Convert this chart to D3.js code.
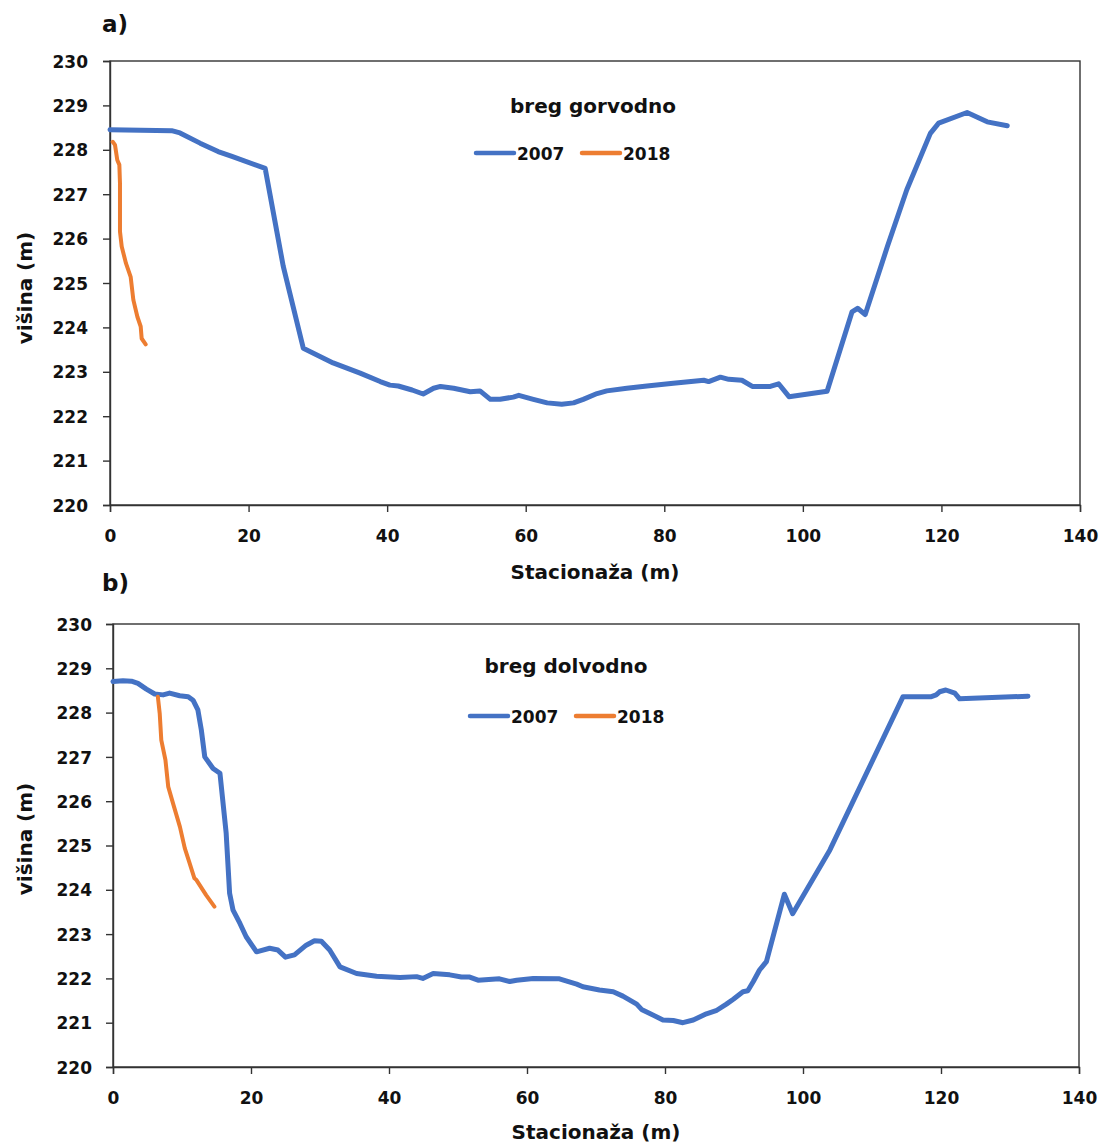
<!DOCTYPE html>
<html><head><meta charset="utf-8">
<script src="https://cdn.jsdelivr.net/npm/d3@7"></script>
<style>body{margin:0;background:#fff}svg{display:block}text{font-family:"DejaVu Sans",sans-serif;font-weight:bold;fill:#111}</style>
</head><body><svg id="c" width="1102" height="1144"></svg>
<script>
const xTicks = [0,20,40,60,80,100,120,140];
const yTicks = [220,221,222,223,224,225,226,227,228,229,230];
const seriesNames = ["2007","2018"];
const panelLabels = ["a)","b)"];
const panelTitles = ["breg gorvodno","breg dolvodno"];
const xTitle = "Stacionaža (m)";
const yTitle = "višina (m)";

// a) breg gorvodno
const upstream2007 = [[0,228.45],[8.9,228.43],[10.1,228.38],[13,228.15],[15.6,227.96],[17.6,227.85],[22.4,227.58],[25.0,225.38],[27.9,223.53],[32.2,223.2],[36.1,222.97],[39.0,222.78],[40.4,222.7],[41.6,222.68],[43.6,222.59],[45.2,222.5],[46.7,222.63],[47.7,222.67],[49.6,222.63],[52.0,222.55],[53.4,222.57],[54.9,222.38],[56.3,222.38],[58.2,222.43],[59.0,222.47],[61.1,222.38],[63.1,222.3],[65.2,222.27],[66.9,222.3],[68.3,222.38],[70.3,222.51],[71.7,222.57],[74.6,222.63],[77.5,222.68],[81.3,222.74],[85.7,222.81],[86.4,222.78],[88.1,222.88],[89.3,222.83],[91.2,222.81],[92.7,222.67],[95.3,222.67],[96.5,222.73],[98.0,222.44],[103.5,222.56],[107.1,224.35],[107.9,224.43],[109.0,224.29],[112.2,225.82],[115.0,227.1],[118.4,228.37],[119.6,228.6],[123.7,228.84],[126.6,228.63],[129.5,228.54]];
const upstream2018 = [[0.39,228.18],[0.72,228.11],[1.05,227.77],[1.35,227.66],[1.44,227.25],[1.44,226.16],[1.69,225.82],[2.31,225.44],[2.98,225.14],[3.37,224.62],[3.95,224.24],[4.43,224.02],[4.57,223.75],[5.15,223.62]];

// b) breg dolvodno
const downstream2007 = [[0,228.70],[1.45,228.72],[2.67,228.71],[3.62,228.66],[4.84,228.53],[6.04,228.42],[7.25,228.40],[8.2,228.44],[9.67,228.38],[10.9,228.36],[11.6,228.28],[12.3,228.06],[12.8,227.61],[13.3,227.0],[14.5,226.74],[15.5,226.63],[16.4,225.28],[16.9,223.92],[17.4,223.54],[18.4,223.24],[19.3,222.94],[20.8,222.60],[22.7,222.68],[23.9,222.64],[25.0,222.48],[26.3,222.53],[28.0,222.75],[29.2,222.85],[30.2,222.84],[31.4,222.64],[32.9,222.26],[35.3,222.11],[38.2,222.05],[41.6,222.02],[44.0,222.04],[44.9,222.0],[46.4,222.11],[48.8,222.08],[50.5,222.03],[51.7,222.03],[52.9,221.96],[56.0,221.99],[57.5,221.93],[58.5,221.96],[60.9,222.0],[64.7,221.99],[67.2,221.87],[68.1,221.81],[70.5,221.74],[72.5,221.70],[73.9,221.60],[75.9,221.42],[76.6,221.30],[77.8,221.21],[79.7,221.06],[81.2,221.05],[82.6,221.0],[84.1,221.06],[86.0,221.20],[87.4,221.27],[88.9,221.42],[89.9,221.53],[91.3,221.70],[92.0,221.72],[92.8,221.93],[93.7,222.19],[94.7,222.38],[97.3,223.9],[98.5,223.46],[103.9,224.9],[114.5,228.36],[118.6,228.36],[119.3,228.40],[119.8,228.47],[120.7,228.51],[122.0,228.44],[122.7,228.31],[132.6,228.37]];
const downstream2018 = [[6.5,228.36],[6.77,227.98],[7.0,227.38],[7.6,226.93],[8.0,226.33],[8.7,225.95],[9.7,225.42],[10.4,224.94],[11.1,224.6],[11.8,224.26],[12.1,224.22],[13.5,223.88],[14.7,223.62]];

const colors = ["#4472C4","#ED7D31"];
const svg = d3.select("#c");

const panels = [
  {left:110,right:1080,top:61,bottom:505,data:[upstream2007,upstream2018],label:panelLabels[0],title:panelTitles[0],
   labelPos:[102,32],titleX:593,titleY:113,legY:153,legX:474,yLabX:88,xLabY:542,xTitleY:579,yTitleY:288},
  {left:113,right:1079,top:624,bottom:1067,data:[downstream2007,downstream2018],label:panelLabels[1],title:panelTitles[1],
   labelPos:[102,591],titleX:566,titleY:673,legY:716,legX:468,yLabX:92,xLabY:1104,xTitleY:1139,yTitleY:839}
];

panels.forEach(p=>{
  const x = d3.scaleLinear().domain([0,140]).range([p.left,p.right]);
  const y = d3.scaleLinear().domain([220,230]).range([p.bottom,p.top]);
  const g = svg.append("g");
  // frame
  g.append("rect").attr("x",p.left).attr("y",p.top).attr("width",p.right-p.left).attr("height",p.bottom-p.top)
    .attr("fill","none").attr("stroke","#333").attr("stroke-width",1.4);
  // y axis
  const ya = g.append("g").attr("transform",`translate(${p.left},0)`)
    .call(d3.axisLeft(y).tickValues(yTicks).tickSize(7).tickFormat(d3.format("d")));
  ya.select(".domain").attr("stroke","#333").attr("stroke-width",1.4);
  ya.selectAll(".tick line").attr("stroke","#333").attr("stroke-width",1.4);
  ya.selectAll(".tick text").attr("x",p.yLabX-p.left).attr("dy","0.36em")
    .style("font-family","DejaVu Sans").style("font-weight","bold").style("font-size","17px").attr("fill","#111");
  // x axis
  const xa = g.append("g").attr("transform",`translate(0,${p.bottom})`)
    .call(d3.axisBottom(x).tickValues(xTicks).tickSize(7).tickFormat(d3.format("d")));
  xa.select(".domain").attr("stroke","#333").attr("stroke-width",1.4);
  xa.selectAll(".tick line").attr("stroke","#333").attr("stroke-width",1.4);
  xa.selectAll(".tick text").attr("y",p.xLabY-p.bottom).attr("dy",0)
    .style("font-family","DejaVu Sans").style("font-weight","bold").style("font-size","17px").attr("fill","#111");
  // lines
  const line = d3.line().x(d=>x(d[0])).y(d=>y(d[1]));
  p.data.forEach((s,i)=>{
    g.append("path").datum(s).attr("d",line).attr("fill","none").attr("stroke",colors[i])
      .attr("stroke-width",i===0?5:4).attr("stroke-linejoin","round").attr("stroke-linecap","round");
  });
  // titles
  g.append("text").attr("x",p.labelPos[0]).attr("y",p.labelPos[1]).style("font-size","23px").text(p.label);
  g.append("text").attr("x",p.titleX).attr("y",p.titleY).attr("text-anchor","middle").style("font-size","20px").text(p.title);
  g.append("text").attr("x",(p.left+p.right)/2).attr("y",p.xTitleY).attr("text-anchor","middle").style("font-size","20px").text(xTitle);
  g.append("text").attr("transform",`translate(32,${p.yTitleY}) rotate(-90)`).attr("text-anchor","middle").style("font-size","20px").text(yTitle);
  // legend
  const lg = g.append("g").attr("transform",`translate(${p.legX},${p.legY})`);
  seriesNames.forEach((n,i)=>{
    const ox = i*106;
    lg.append("line").attr("x1",ox+2).attr("x2",ox+40).attr("y1",0).attr("y2",0)
      .attr("stroke",colors[i]).attr("stroke-width",4.5).attr("stroke-linecap","round");
    lg.append("text").attr("x",ox+43).attr("y",7).style("font-size","17px").text(n);
  });
});
</script></body></html>
